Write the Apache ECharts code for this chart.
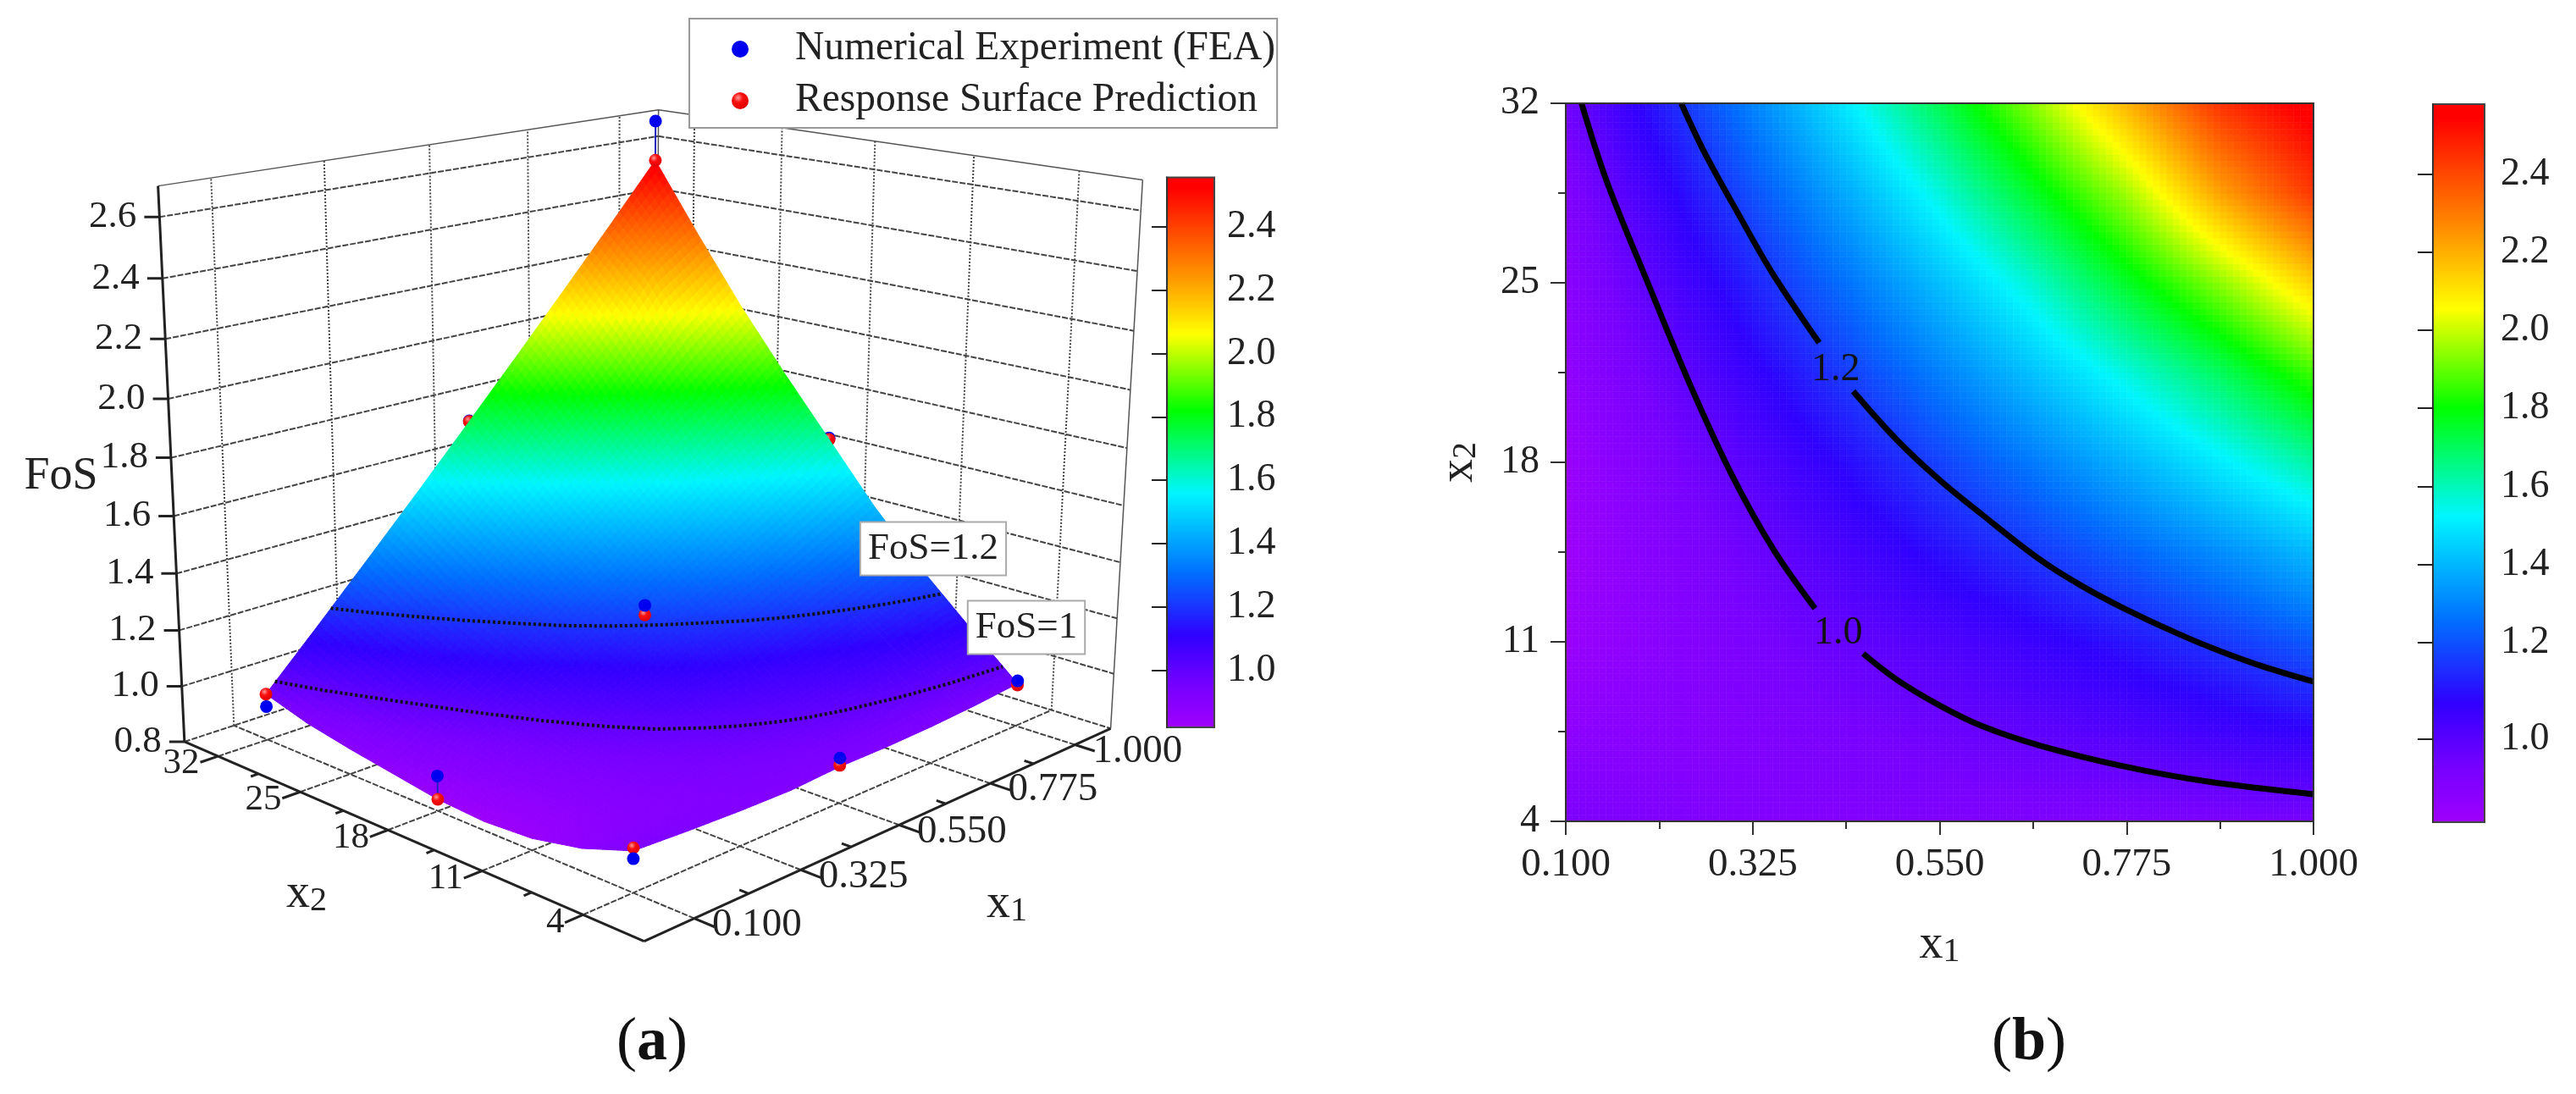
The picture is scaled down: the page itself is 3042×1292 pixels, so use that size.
<!DOCTYPE html>
<html><head><meta charset="utf-8">
<script src="https://cdn.jsdelivr.net/npm/echarts@6/dist/echarts.min.js"></script>
<style>html,body{margin:0;padding:0;background:#fff}#c{width:3042px;height:1292px}</style>
</head><body><div id="c"></div>
<script>
// ---------- values ----------
const x1Ticks = [0.1, 0.325, 0.55, 0.775, 1];
const x2Ticks = [4, 11, 18, 25, 32];
const x1Minor = [0.2125, 0.4375, 0.6625, 0.8875];
const x2Minor = [7.5, 14.5, 21.5, 28.5];
const zTicks = [0.8, 1.0, 1.2, 1.4, 1.6, 1.8, 2.0, 2.2, 2.4, 2.6];
const barTicks = [1.0, 1.2, 1.4, 1.6, 1.8, 2.0, 2.2, 2.4];
// x1 / x2 nodes of the FoS tables (one row per x2 node)
const x1Nodes = [0.1, 0.2125, 0.325, 0.4375, 0.55, 0.6625, 0.775, 0.8875, 1];
const x2Nodes = [4, 7.5, 11, 14.5, 18, 21.5, 25, 28.5, 32];
const fosMapTable = [
  [0.935, 0.925, 0.918, 0.915, 0.925, 0.925, 0.930, 0.940, 0.955],
  [0.875, 0.895, 0.917, 0.945, 0.975, 1.006, 1.039, 1.074, 1.110],
  [0.840, 0.889, 0.941, 0.995, 1.040, 1.088, 1.144, 1.205, 1.270],
  [0.830, 0.903, 0.978, 1.055, 1.133, 1.205, 1.285, 1.365, 1.450],
  [0.840, 0.932, 1.028, 1.126, 1.226, 1.329, 1.435, 1.544, 1.655],
  [0.865, 0.979, 1.096, 1.216, 1.339, 1.465, 1.593, 1.725, 1.880],
  [0.890, 1.028, 1.168, 1.312, 1.459, 1.608, 1.780, 1.950, 2.140],
  [0.920, 1.084, 1.251, 1.420, 1.593, 1.780, 1.970, 2.220, 2.420],
  [0.965, 1.154, 1.346, 1.540, 1.738, 1.950, 2.190, 2.430, 2.555]
];
const fosSurfaceTable = [
  [0.935, 0.925, 0.918, 0.915, 0.925, 0.925, 0.930, 0.940, 0.955],
  [0.875, 0.895, 0.917, 0.945, 0.975, 1.006, 1.039, 1.074, 1.110],
  [0.840, 0.889, 0.941, 0.995, 1.040, 1.088, 1.144, 1.205, 1.270],
  [0.830, 0.903, 0.978, 1.055, 1.133, 1.205, 1.285, 1.365, 1.450],
  [0.840, 0.932, 1.028, 1.126, 1.226, 1.329, 1.435, 1.544, 1.655],
  [0.865, 0.979, 1.096, 1.216, 1.339, 1.465, 1.593, 1.725, 1.860],
  [0.890, 1.028, 1.168, 1.312, 1.459, 1.608, 1.775, 1.930, 2.075],
  [0.920, 1.084, 1.251, 1.420, 1.593, 1.775, 1.965, 2.190, 2.310],
  [0.965, 1.154, 1.346, 1.540, 1.738, 1.938, 2.141, 2.346, 2.555]
];
// design points: [x1, x2, FoS]
const feaFront = [[0.1,32,0.92],[0.1,18,0.92],[0.1,4,0.91],[0.55,18,1.26],[0.55,4,0.955],[1,4,0.965],[1,32,2.70]];
const feaBack  = [[0.55,32,1.74],[1,18,1.66]];
const rsmFront = [[0.1,32,0.965],[0.1,18,0.84],[0.1,4,0.945],[0.55,18,1.226],[0.55,4,0.93],[1,4,0.95],[1,32,2.555]];
const rsmBack  = [[0.55,32,1.738],[1,18,1.655]];
// FoS contours: [x1, x2], split where the inline label interrupts them
const contour10Upper = [[0.119,32],[0.150,28.9],[0.200,24.9],[0.250,21.0],[0.300,17.5],[0.350,14.6],[0.400,12.3]];
const contour10Lower = [[0.458,10.54],[0.499,9.51],[0.550,8.52],[0.600,7.73],[0.669,6.97],[0.771,6.15],[0.873,5.55],[1,5.06]];
const contour12Upper = [[0.239,32],[0.267,30.08],[0.308,27.67],[0.349,25.36],[0.405,22.66]];
const contour12Lower = [[0.446,20.77],[0.499,18.86],[0.550,17.31],[0.600,15.99],[0.669,14.25],[0.720,13.2],[0.771,12.32],[0.838,11.3],[0.889,10.62],[0.940,10.03],[1,9.45]];
// rainbow scale: FoS -> colour
const scaleStops = [[0.82,[160,0,250]],[0.88,[140,0,255]],[0.95,[120,0,255]],[1.11,[48,0,255]],[1.31,[0,112,255]],[1.56,[0,245,255]],[1.82,[0,255,0]],[2.06,[255,255,0]],[2.25,[255,144,0]],[2.52,[255,0,0]],[2.6,[255,0,0]]];

// ---------- 3D view of panel (a): axis box + camera fitted to the picture ----------
const boxX1 = [0, 1.1], boxX2 = [0, 35], boxZ = [0.8, 2.7];
const cameraAnchors = [
 [0,0,.8,762,1110],[0,35,.8,217,877],[1.1,0,.8,1313,860],[1.1,35,.8,776,691],
 [0,35,2.7,186,219],[1.1,0,2.7,1349,212],[1.1,35,2.7,777,130],
 [.1,4,.8,749,1053],[1,4,.8,1193,860],[.1,32,.8,317,874],[.55,0,.8,1060,975],[0,18,.8,457.5,982],
 [0,35,1.6,204,609],[1.1,35,2.6,777,162],[1.1,0,1.6,1329,597],[0,35,2.6,190,256],[1.1,0,1.0,1317.6,795]
];
function fitCamera(list){
  const n=11, M=Array.from({length:n},()=>new Array(n+1).fill(0));
  const add=(r,b)=>{for(let i=0;i<n;i++){for(let j=0;j<n;j++)M[i][j]+=r[i]*r[j];M[i][n]+=r[i]*b;}};
  for(const [a,b,c,u0,v0] of list){
    const x=a,y=b/35,z=c/2.7,u=u0/1000,v=v0/1000;
    add([x,y,z,1,0,0,0,0,-u*x,-u*y,-u*z],u);
    add([0,0,0,0,x,y,z,1,-v*x,-v*y,-v*z],v);
  }
  for(let i=0;i<n;i++){
    let p=i;for(let k=i+1;k<n;k++)if(Math.abs(M[k][i])>Math.abs(M[p][i]))p=k;
    [M[i],M[p]]=[M[p],M[i]];
    for(let k=0;k<n;k++){if(k===i)continue;const f=M[k][i]/M[i][i];for(let j=i;j<=n;j++)M[k][j]-=f*M[i][j];}
  }
  return M.map((r,i)=>r[n]/r[i]);
}
const cam = fitCamera(cameraAnchors);
function project(a,b,c){
  const x=a,y=b/35,z=c/2.7,w=cam[8]*x+cam[9]*y+cam[10]*z+1;
  return [1000*(cam[0]*x+cam[1]*y+cam[2]*z+cam[3])/w,1000*(cam[4]*x+cam[5]*y+cam[6]*z+cam[7])/w];
}
function colorOf(v){
  const s=scaleStops;
  if(v<=s[0][0])return 'rgb('+s[0][1]+')';
  for(let i=1;i<s.length;i++){
    if(v<=s[i][0]){const t=(v-s[i-1][0])/(s[i][0]-s[i-1][0]);
      return 'rgb('+s[i][1].map((c,k)=>Math.round(s[i-1][1][k]+(c-s[i-1][1][k])*t))+')';}
  }
  return 'rgb('+s[s.length-1][1]+')';
}
const FONT='Liberation Serif', INK='#222';
const BREAK=[NaN,NaN];
const segs=list=>{const o=[];list.forEach(p=>{p.forEach(q=>o.push(project(...q)));o.push(BREAK);});return o;};

// wall + floor grid
const gridDashed=[], gridDotted=[];
x1Ticks.forEach(a=>gridDashed.push([[a,boxX2[0],.8],[a,boxX2[1],.8]]));
x2Ticks.forEach(b=>gridDashed.push([[boxX1[0],b,.8],[boxX1[1],b,.8]]));
zTicks.slice(1).forEach(c=>{gridDashed.push([[boxX1[0],boxX2[1],c],[boxX1[1],boxX2[1],c]]);gridDashed.push([[boxX1[1],boxX2[1],c],[boxX1[1],boxX2[0],c]]);});
gridDashed.push([[boxX1[0],boxX2[1],.8],[boxX1[1],boxX2[1],.8]],[[boxX1[1],boxX2[1],.8],[boxX1[1],boxX2[0],.8]]);
x1Ticks.forEach(a=>gridDotted.push([[a,boxX2[1],.8],[a,boxX2[1],2.7]]));
x2Ticks.forEach(b=>gridDotted.push([[boxX1[1],b,.8],[boxX1[1],b,2.7]]));
const boxThin=[[[0,35,2.7],[1.1,35,2.7]],[[1.1,35,2.7],[1.1,0,2.7]],[[1.1,0,.8],[1.1,0,2.7]],[[1.1,35,.8],[1.1,35,2.7]]];
const axisMain=[[[0,35,.8],[0,0,.8]],[[0,0,.8],[1.1,0,.8]],[[0,35,.8],[0,35,2.7]]];
x2Ticks.forEach(b=>axisMain.push([[0,b,.8],[-0.035,b,.8]]));
x1Ticks.forEach(a=>axisMain.push([[a,0,.8],[a,-1.3,.8]]));
x2Minor.forEach(b=>axisMain.push([[0,b,.8],[-0.015,b,.8]]));
x1Minor.forEach(a=>axisMain.push([[a,0,.8],[a,0.6,.8]]));
const zTickSegs=[];
zTicks.forEach(c=>{const p=project(0,35,c);zTickSegs.push(p,[p[0]-18,p[1]],BREAK);});

const stage={xAxisIndex:0,yAxisIndex:0,silent:true,animation:false};
const lineSeries=(name,data,style,z)=>Object.assign({},stage,{type:'line',name,data,showSymbol:false,symbol:'none',lineStyle:style,z,connectNulls:false});
const txt=(X,Y,text,opt)=>({value:[X,Y],label:Object.assign({show:true,formatter:text,position:'inside',distance:0,fontFamily:FONT,color:INK,fontSize:46},opt||{})});
const labelSeries=(name,data,z)=>Object.assign({},stage,{type:'scatter',name,symbolSize:0,itemStyle:{opacity:1},data,z:z||8});

const stageLabels=[];
zTicks.forEach(c=>{const p=project(0,35,c);stageLabels.push(txt(p[0]-27,p[1],c.toFixed(1),{position:'left',fontSize:45}));});
x2Ticks.forEach(b=>{const p=project(0,b,.8);stageLabels.push(txt(p[0]-22,p[1]+9,String(b),{position:'left',fontSize:43}));});
x1Ticks.forEach(a=>{const p=project(a,0,.8);stageLabels.push(txt(p[0]+21,p[1]+8,a.toFixed(3),{position:'right',fontSize:47}));});
const subRich={x:{fontFamily:FONT,fontSize:56,color:INK,lineHeight:56,verticalAlign:'top'},s:{fontFamily:FONT,fontSize:40,color:INK,lineHeight:40,padding:[26,0,0,0],verticalAlign:'bottom'}};
stageLabels.push(txt(1189,1068,'{x|x}{s|1}',{rich:subRich}));
stageLabels.push(txt(362,1056,'{x|x}{s|2}',{rich:subRich}));
stageLabels.push(txt(72,563,'FoS',{fontSize:54}));
const capRich={p:{fontFamily:FONT,fontSize:72,color:'#111'},b:{fontFamily:FONT,fontSize:72,fontWeight:'bold',color:'#111'}};
stageLabels.push(txt(770,1232,'{p|(}{b|a}{p|)}',{rich:capRich}));
stageLabels.push(txt(2396,1232,'{p|(}{b|b}{p|)}',{rich:capRich}));
const boxed={fontSize:45,backgroundColor:'#fff',borderColor:'#aaa',borderWidth:2,padding:[10,8,6,8],color:INK};

const redBall={type:'radial',x:.38,y:.32,r:.7,colorStops:[{offset:0,color:'#ff9a9a'},{offset:.4,color:'#f81010'},{offset:1,color:'#e00000'}]};
const markerSeries=(name,pts,fill,z)=>Object.assign({},stage,{type:'scatter',name,data:pts.map(p=>project(...p)),symbol:'circle',symbolSize:15,itemStyle:{color:fill,opacity:1},z});
const dropPairs=[...feaFront.map((p,i)=>[p,rsmFront[i]])];
const contourAt=(arr,c)=>arr.map(p=>project(p[0],p[1],c));

// surface cells, far corner first
const surfaceCells=[];
for(let i=x1Nodes.length-2;i>=0;i--)for(let j=x2Nodes.length-2;j>=0;j--)surfaceCells.push([i,j]);
function cellValue(T,i,j,a,b){
  return (T[j][i]*(1-a)+T[j][i+1]*a)*(1-b)+(T[j+1][i]*(1-a)+T[j+1][i+1]*a)*b;
}
const SUB3=10, SUB2=14;
function renderSurface(params,api){
  const i=api.value(0),j=api.value(1),kids=[],T=fosSurfaceTable;
  const X=(a)=>x1Nodes[i]+(x1Nodes[i+1]-x1Nodes[i])*a, Y=(b)=>x2Nodes[j]+(x2Nodes[j+1]-x2Nodes[j])*b;
  const P=(a,b)=>api.coord(project(X(a),Y(b),cellValue(T,i,j,a,b)));
  for(let p=SUB3-1;p>=0;p--)for(let q=SUB3-1;q>=0;q--){
    const a0=p/SUB3,a1=(p+1)/SUB3,b0=q/SUB3,b1=(q+1)/SUB3;
    const col=colorOf(cellValue(T,i,j,(a0+a1)/2,(b0+b1)/2));
    kids.push({type:'polygon',shape:{points:[P(a0,b0),P(a1,b0),P(a1,b1),P(a0,b1)]},style:{fill:col,stroke:col,lineWidth:1}});
  }
  return {type:'group',children:kids};
}
function renderHeat(params,api){
  const i=api.value(0),j=api.value(1),kids=[],T=fosMapTable;
  for(let p=0;p<SUB2;p++)for(let q=0;q<SUB2;q++){
    const a0=p/SUB2,a1=(p+1)/SUB2,b0=q/SUB2,b1=(q+1)/SUB2;
    const tl=api.coord([x1Nodes[i]+(x1Nodes[i+1]-x1Nodes[i])*a0,x2Nodes[j]+(x2Nodes[j+1]-x2Nodes[j])*b1]);
    const br=api.coord([x1Nodes[i]+(x1Nodes[i+1]-x1Nodes[i])*a1,x2Nodes[j]+(x2Nodes[j+1]-x2Nodes[j])*b0]);
    const col=colorOf(cellValue(T,i,j,(a0+a1)/2,(b0+b1)/2));
    kids.push({type:'rect',shape:{x:tl[0],y:tl[1],width:br[0]-tl[0],height:br[1]-tl[1]},style:{fill:col,stroke:col,lineWidth:.6}});
  }
  return {type:'group',children:kids};
}
const barGradient={type:'linear',x:0,y:0,x2:0,y2:1,colorStops:scaleStops.map(s=>({offset:Math.min(1,Math.max(0,(2.556-s[0])/1.736)),color:'rgb('+s[1]+')'})).reverse()};
function renderBar(params,api){
  const tl=api.coord([0,api.value(1)]),br=api.coord([1,api.value(0)]);
  return {type:'rect',shape:{x:tl[0],y:tl[1],width:br[0]-tl[0],height:br[1]-tl[1]},style:{fill:barGradient,stroke:'#444',lineWidth:2}};
}
function renderFrame(params,api){
  const tl=api.coord([api.value(0),api.value(3)]),br=api.coord([api.value(1),api.value(2)]);
  return {type:'rect',shape:{x:tl[0],y:tl[1],width:br[0]-tl[0],height:br[1]-tl[1]},style:{fill:'none',stroke:'#333',lineWidth:2}};
}
// right bar: the picture's "1.0" tick sits lower than the even spacing of the others
const barBPos = {1.0:0.953,1.2:1.2,1.4:1.4,1.6:1.6,1.8:1.8,2.0:2.0,2.2:2.2,2.4:2.4};
const barBValues = barTicks.map(v=>barBPos[v]);
const barLabelStyle={fontFamily:FONT,fontSize:46,color:INK};
const hiddenAxis=(g,min,max,extra)=>Object.assign({type:'value',gridIndex:g,min,max,show:false},extra||{});
const barY=(g,min,max,values,fmt,margin)=>({type:'value',gridIndex:g,min,max,position:'right',z:10,
  axisLine:{show:true,lineStyle:{color:'#333',width:2}},splitLine:{show:false},
  axisTick:{show:true,inside:true,length:18,customValues:values,lineStyle:{color:'#222',width:2}},
  axisLabel:Object.assign({show:true,margin,customValues:values,formatter:fmt},barLabelStyle)});
const nameRich={x:{fontFamily:FONT,fontSize:56,color:INK,lineHeight:56,verticalAlign:'top'},s:{fontFamily:FONT,fontSize:40,color:INK,lineHeight:40,padding:[26,0,0,0],verticalAlign:'bottom'}};

const heatCells=[];
for(let i=0;i<x1Nodes.length-1;i++)for(let j=0;j<x2Nodes.length-1;j++)heatCells.push([i,j]);

const option={
  animation:false,backgroundColor:'#fff',
  legend:{left:814,top:22,orient:'vertical',selectedMode:false,itemWidth:120,itemHeight:20,itemGap:13,padding:[12,2,8,50],
    backgroundColor:'#fff',borderColor:'#999',borderWidth:2,z:20,
    textStyle:{fontFamily:FONT,fontSize:47.5,color:INK},
    data:['Numerical Experiment (FEA)','Response Surface Prediction']},
  grid:[
    {left:0,top:0,width:3042,height:1292},
    {left:1849,top:122,width:883,height:848},
    {left:1378,top:209.5,width:56,height:649.5},
    {left:2873,top:123,width:61,height:848}
  ],
  xAxis:[
    hiddenAxis(0,0,3042),
    {type:'value',gridIndex:1,min:0.1,max:1,position:'bottom',z:10,splitLine:{show:false},
      axisLine:{show:true,lineStyle:{color:'#333',width:2}},
      axisTick:{show:true,length:16,customValues:x1Ticks,lineStyle:{color:'#333',width:2}},
      axisLabel:{show:true,margin:28,customValues:x1Ticks,formatter:v=>v.toFixed(3),fontFamily:FONT,fontSize:47,color:INK},
      name:'{x|x}{s|1}',nameLocation:'middle',nameGap:118,nameTextStyle:{rich:nameRich}},
    {type:'value',gridIndex:1,min:0.1,max:1,position:'bottom',z:10,splitLine:{show:false},
      axisLine:{show:false},axisLabel:{show:false},
      axisTick:{show:true,length:9,customValues:x1Minor,lineStyle:{color:'#333',width:2}}},
    hiddenAxis(2,0,1),
    hiddenAxis(3,0,1)
  ],
  yAxis:[
    hiddenAxis(0,0,1292,{inverse:true}),
    {type:'value',gridIndex:1,min:4,max:32,position:'left',z:10,splitLine:{show:false},
      axisLine:{show:true,lineStyle:{color:'#333',width:2}},
      axisTick:{show:true,length:18,customValues:x2Ticks,lineStyle:{color:'#333',width:2}},
      axisLabel:{show:true,margin:31,customValues:x2Ticks,formatter:v=>String(v),fontFamily:FONT,fontSize:46,color:INK},
      name:'{x|x}{s|2}',nameLocation:'middle',nameGap:98,nameTextStyle:{rich:nameRich}},
    {type:'value',gridIndex:1,min:4,max:32,position:'left',z:10,splitLine:{show:false},
      axisLine:{show:false},axisLabel:{show:false},
      axisTick:{show:true,length:9,customValues:x2Minor,lineStyle:{color:'#333',width:2}}},
    barY(2,0.82,2.556,barTicks,v=>v.toFixed(1),15),
    barY(3,0.74,2.579,barBValues,v=>{const k=barTicks.find(t=>Math.abs(barBPos[t]-v)<1e-6);return k===undefined?'':k.toFixed(1);},19)
  ],
  series:[
    lineSeries('wall grid',segs(gridDashed),{color:'#444',width:2,type:[7,2]},1),
    lineSeries('wall verticals',segs(gridDotted),{color:'#444',width:2,type:[2,2]},1),
    lineSeries('box edges',segs(boxThin),{color:'#555',width:1.5},2),
    lineSeries('axes',[...segs(axisMain),...zTickSegs],{color:'#222',width:3},3),
    markerSeries('Numerical Experiment (FEA)',feaBack,'#0000f0',4),
    markerSeries('Response Surface Prediction',rsmBack,redBall,4),
    Object.assign({},stage,{type:'custom',name:'surface',progressive:0,renderItem:renderSurface,data:surfaceCells,z:5}),
    markerSeries('Numerical Experiment (FEA)',feaFront,'#0000f0',7),
    lineSeries('drop lines',segs(dropPairs),{color:'#2020c0',width:2},6),
    markerSeries('Response Surface Prediction',rsmFront,redBall,6),
    lineSeries('FoS=1 on surface',contourAt(contour10Upper.concat(contour10Lower),1.0),{color:'#111',width:4,type:[3,3]},8),
    lineSeries('FoS=1.2 on surface',contourAt(contour12Upper.concat(contour12Lower),1.2),{color:'#111',width:4,type:[3,3]},8),
    labelSeries('labels',stageLabels,9),
    labelSeries('contour tags',[txt(1102,648,'FoS=1.2',boxed),txt(1212,741,'FoS=1',boxed)],9),

    {type:'custom',name:'FoS map',xAxisIndex:1,yAxisIndex:1,silent:true,progressive:0,animation:false,renderItem:renderHeat,data:heatCells,z:2},
    {type:'line',name:'FoS=1.0 contour',xAxisIndex:1,yAxisIndex:1,silent:true,animation:false,symbol:'none',smooth:.35,connectNulls:false,
      data:[...contour10Upper,BREAK,...contour10Lower],lineStyle:{color:'#000',width:7},z:3},
    {type:'line',name:'FoS=1.2 contour',xAxisIndex:1,yAxisIndex:1,silent:true,animation:false,symbol:'none',smooth:.35,connectNulls:false,
      data:[...contour12Upper,BREAK,...contour12Lower],lineStyle:{color:'#000',width:7},z:3},
    {type:'scatter',name:'contour labels',xAxisIndex:1,yAxisIndex:1,silent:true,animation:false,symbolSize:0,itemStyle:{opacity:1},z:4,
      data:[{value:[0.425,21.6],label:{formatter:'1.2'}},{value:[0.428,11.33],label:{formatter:'1.0'}}],
      label:{show:true,position:'inside',fontFamily:FONT,fontSize:46,color:'#111'}},
    {type:'custom',name:'frame',xAxisIndex:1,yAxisIndex:1,silent:true,animation:false,renderItem:renderFrame,data:[[0.1,1,4,32]],z:5},

    {type:'custom',name:'scale bar a',xAxisIndex:3,yAxisIndex:3,silent:true,animation:false,renderItem:renderBar,data:[[0.82,2.556]],z:2},
    {type:'custom',name:'scale bar b',xAxisIndex:4,yAxisIndex:4,silent:true,animation:false,renderItem:renderBar,data:[[0.74,2.579]],z:2}
  ]
};
const chart=echarts.init(document.getElementById('c'),null,{renderer:'canvas',width:3042,height:1292});
chart.setOption(option);
</script></body></html>
